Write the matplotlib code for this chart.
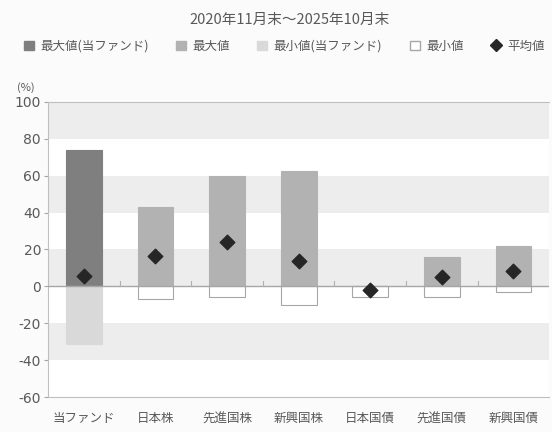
import matplotlib
matplotlib.use("Agg")
import matplotlib.pyplot as plt
from matplotlib.patches import Patch
from matplotlib.lines import Line2D

plt.rcParams['font.family'] = ['Noto Sans CJK JP', 'DejaVu Sans']

categories = ['当ファンド', '日本株', '先進国株', '新興国株', '日本国債', '先進国債', '新興国債']
max_vals = [74.0, 43.0, 60.0, 62.5, 0.3, 16.0, 22.0]
min_vals = [-31.0, -7.0, -6.0, -10.0, -5.5, -5.5, -3.0]
mean_vals = [5.5, 16.5, 24.0, 14.0, -2.0, 5.0, 8.5]
yticks = [-60, -40, -20, 0, 20, 40, 60, 80, 100]

txt = '#595959'
fig = plt.figure(figsize=(5.52, 4.32), dpi=100)
fig.patch.set_facecolor('#fbfbfb')
ax = fig.add_axes([0.087, 0.081, 0.908, 0.683])
ax.set_facecolor('white')

# alternating background bands
for lo in range(-40, 100, 40):
    ax.axhspan(lo, lo + 20, color='#ededed', zorder=0, lw=0)

x = list(range(len(categories)))
max_colors = ['#7f7f7f'] + ['#b2b2b2'] * (len(categories) - 1)
min_colors = ['#d9d9d9'] + ['white'] * (len(categories) - 1)
min_edges = ['#d9d9d9'] + ['#a6a6a6'] * (len(categories) - 1)

ax.bar(x, max_vals, width=0.5, color=max_colors, edgecolor=max_colors, lw=0.8, zorder=2)
ax.bar(x, min_vals, width=0.5, color=min_colors, edgecolor=min_edges, lw=0.8, zorder=2)
ax.scatter(x, mean_vals, marker='D', s=55, color='#262626', zorder=4)

ax.axhline(0, color='#a6a6a6', lw=1, zorder=3)
for b in range(1, len(categories)):
    ax.plot([b - 0.5, b - 0.5], [0, 3], color='#b0b0b0', lw=0.8, zorder=3)

ax.set_xlim(-0.5, len(categories) - 0.5)
ax.set_ylim(-60, 100)
ax.set_yticks(yticks)
ax.set_yticklabels([str(v) for v in yticks], color=txt, fontsize=10, family=['DejaVu Sans'])
ax.set_xticks(x)
ax.set_xticklabels(categories, color=txt, fontsize=9)
ax.tick_params(axis='x', length=0, pad=11)
ax.tick_params(axis='y', length=3, color='#a6a6a6', pad=2)

for s in ['right']:
    ax.spines[s].set_visible(False)
for s in ['left', 'top', 'bottom']:
    ax.spines[s].set_color('#bfbfbf')

fig.text(0.03, 0.79, '(%)', color=txt, fontsize=8, ha='left')
fig.text(0.525, 0.955, '2020年11月末～2025年10月末', color=txt, fontsize=10.5, ha='center', va='center')

handles = [
    Patch(facecolor='#7f7f7f', edgecolor='#7f7f7f', label='最大値(当ファンド)'),
    Patch(facecolor='#b2b2b2', edgecolor='#b2b2b2', label='最大値'),
    Patch(facecolor='#d9d9d9', edgecolor='#d9d9d9', label='最小値(当ファンド)'),
    Patch(facecolor='white', edgecolor='#a6a6a6', label='最小値'),
    Line2D([], [], marker='D', color='#262626', ls='none', markersize=6, label='平均値'),
]
leg = fig.legend(handles=handles, loc='center', bbox_to_anchor=(0.515, 0.893), ncol=5,
                 frameon=False, fontsize=9, handlelength=0.8, handleheight=0.8,
                 handletextpad=0.5, columnspacing=2.2)
for t in leg.get_texts():
    t.set_color(txt)

fig.savefig('out.png', dpi=100, facecolor=fig.get_facecolor())
